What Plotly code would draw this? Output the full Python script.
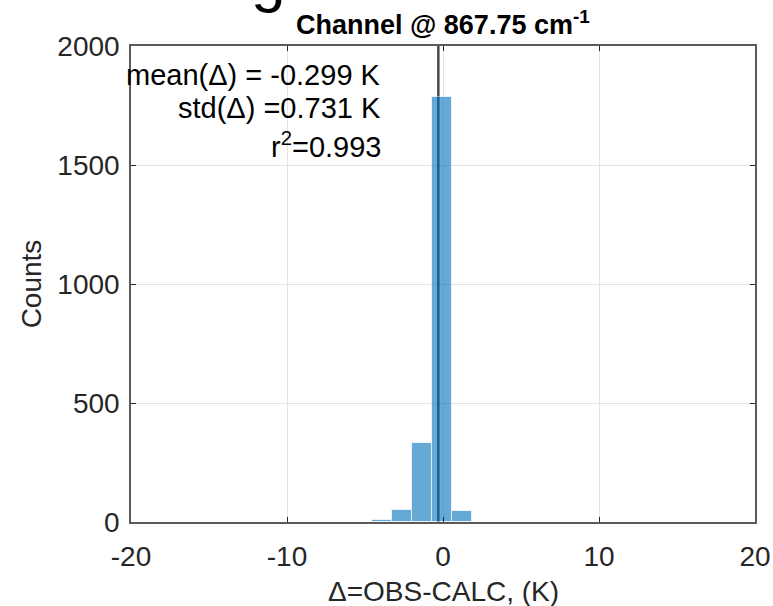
import plotly.graph_objects as go

# ---- data ----
bin_edges = [-4.55, -3.28, -1.98, -0.69, 0.56, 1.85]
counts = [10, 52, 332, 1786, 46]
mean_delta = -0.299
std_delta = 0.731
r2 = 0.993
x_ticks = [-20, -10, 0, 10, 20]
y_ticks = [0, 500, 1000, 1500, 2000]
title_text = "Channel @ 867.75 cm<sup>-1</sup>"
xlabel = "Δ=OBS-CALC, (K)"
ylabel = "Counts"

centers = [(a + b) / 2 for a, b in zip(bin_edges[:-1], bin_edges[1:])]
widths = [(b - a) for a, b in zip(bin_edges[:-1], bin_edges[1:])]

FONT = "Liberation Sans, Arial, Helvetica, sans-serif"
AXC = "#5a5a5a"
TXT = "#262626"

fig = go.Figure()
fig.add_trace(go.Bar(
    x=centers, y=counts, width=widths,
    marker=dict(color="rgb(0,114,189)", opacity=0.6,
                line=dict(color="rgba(255,255,255,0.7)", width=1)),
    showlegend=False,
))

# mean line (under the semi-transparent bars)
fig.add_shape(type="line", xref="x", yref="y", x0=mean_delta, x1=mean_delta,
              y0=0, y1=2000, line=dict(color="rgba(40,40,40,0.85)", width=2.5),
              layer="between")

axis_common = dict(
    showline=True, linecolor=AXC, linewidth=1.5, mirror="ticks",
    ticks="inside", ticklen=5, tickcolor=TXT, tickwidth=1,
    showgrid=True, gridcolor="#e3e3e3", gridwidth=1, zeroline=False,
    tickfont=dict(family=FONT, size=28, color=TXT), automargin=False,
)

fig.update_xaxes(range=[-20, 20], tickvals=x_ticks, ticktext=[str(v) for v in x_ticks],
                 ticklabelstandoff=9, **axis_common)
fig.update_yaxes(range=[0, 2000], tickvals=y_ticks, ticktext=[str(v) for v in y_ticks],
                 ticklabelstandoff=4,
                 title=dict(text=ylabel, font=dict(family=FONT, size=28, color=TXT), standoff=8),
                 **axis_common)

# x-axis label
fig.add_annotation(xref="paper", yref="paper", x=0.5, y=-(591 - 522) / 476,
                   text=xlabel, showarrow=False, xanchor="center", yanchor="middle",
                   font=dict(family=FONT, size=28, color=TXT))

ann_font = dict(family=FONT, size=29, color="black")
xr = (383 - 131) / 624
fig.add_annotation(xref="paper", yref="paper", x=xr, y=1 - (74.7 - 46) / 476,
                   text="mean(Δ) = %.3f K" % mean_delta, showarrow=False,
                   xanchor="right", yanchor="middle", font=ann_font)
fig.add_annotation(xref="paper", yref="paper", x=xr, y=1 - (107.5 - 46) / 476,
                   text="std(Δ) =%.3f K" % std_delta, showarrow=False,
                   xanchor="right", yanchor="middle", font=ann_font)
fig.add_annotation(xref="paper", yref="paper", x=xr, y=1 - (145 - 46) / 476,
                   text="r<sup>2</sup>=%.3f" % r2, showarrow=False,
                   xanchor="right", yanchor="middle", font=ann_font)

# title
fig.add_annotation(xref="paper", yref="paper", x=0.5, y=1, yshift=4,
                   text="<b>" + title_text + "</b>", showarrow=False,
                   xanchor="center", yanchor="bottom",
                   font=dict(family=FONT, size=27, color="black"))

# partially visible glyph of a larger, clipped super-title
fig.add_annotation(xref="paper", yref="paper", x=(268 - 131) / 624, y=1, yshift=31,
                   text="g", showarrow=False, xanchor="center", yanchor="bottom",
                   font=dict(family=FONT, size=62, color="black"))

fig.update_layout(
    width=773, height=606,
    margin=dict(l=131, r=18, t=46, b=84),
    paper_bgcolor="white", plot_bgcolor="white",
    bargap=0,
)

fig.write_html("out.html")
